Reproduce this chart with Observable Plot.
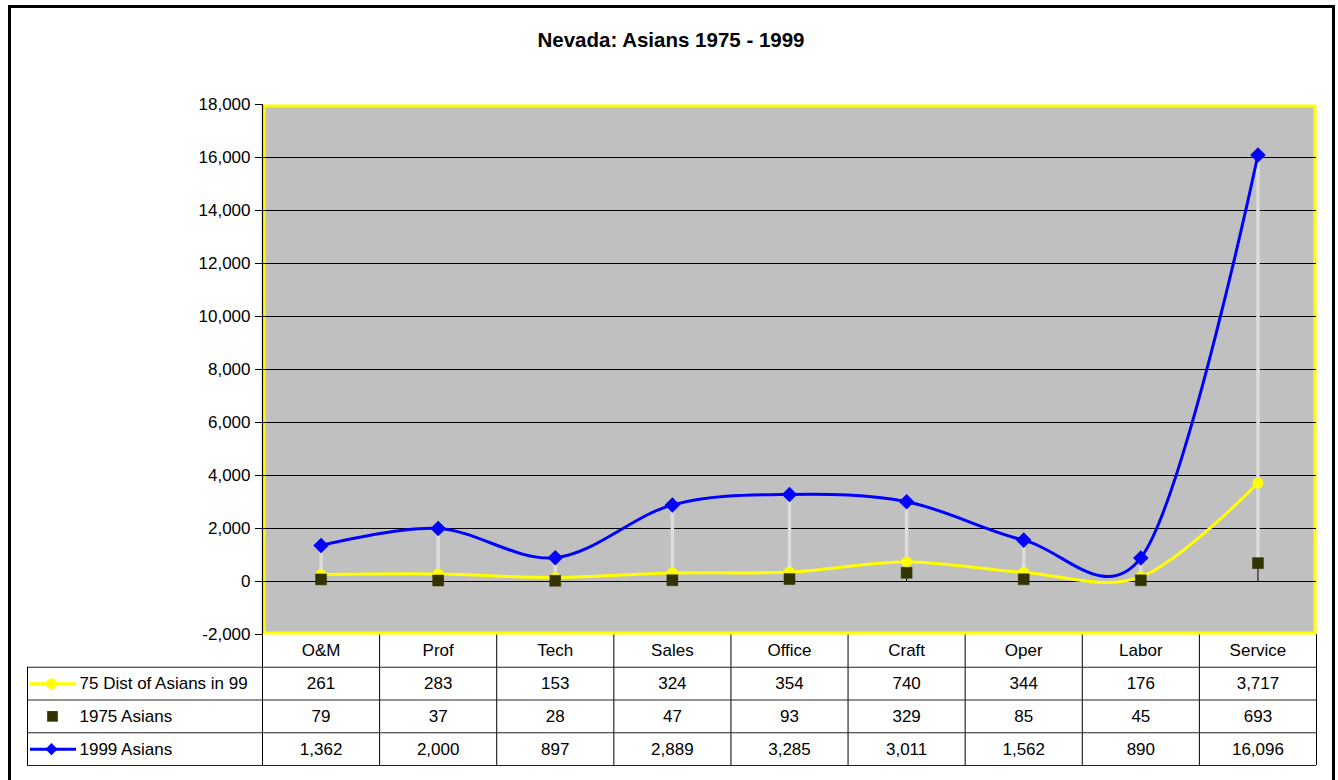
<!DOCTYPE html>
<html>
<head>
<meta charset="utf-8">
<script src="https://cdn.jsdelivr.net/npm/d3@7"></script>
<script src="https://cdn.jsdelivr.net/npm/@observablehq/plot@0.6"></script>
<style>
  html, body { margin: 0; padding: 0; background: #fff; overflow: hidden; width: 1338px; height: 780px; }
  #frame { position: absolute; left: 8px; top: 5px; width: 1327px; height: 800px; border: 3px solid #000; box-sizing: border-box; }
  #title { position: absolute; left: 2px; top: 28px; width: 1338px; text-align: center; font: bold 20.5px "Liberation Sans", Arial, sans-serif; color: #000; }
  .layer { position: absolute; left: 0; top: 0; }
</style>
</head>
<body>
<div id="frame"></div>
<div id="title">Nevada: Asians 1975 - 1999</div>
<div id="table" class="layer"></div>
<div id="chart" class="layer"></div>
<script>
// ---- data ----
const categories = ["O&M", "Prof", "Tech", "Sales", "Office", "Craft", "Oper", "Labor", "Service"];
const dist75 = [261, 283, 153, 324, 354, 740, 344, 176, 3717];
const asians1975 = [79, 37, 28, 47, 93, 329, 85, 45, 693];
const asians1999 = [1362, 2000, 897, 2889, 3285, 3011, 1562, 890, 16096];
const seriesNames = ["75 Dist of Asians in 99", "1975 Asians", "1999 Asians"];
const yTicks = [-2000, 0, 2000, 4000, 6000, 8000, 10000, 12000, 14000, 16000, 18000];

// ---- layout ----
const W = 1338, H = 780;
const mL = 262, mR = 22, plotTop = 104, plotBottom = 634, tableBottom = 765;
const colW = (W - mR - mL) / categories.length;
const px2x = p => (p - mL) / colW;
const font = "'Liberation Sans', Arial, sans-serif";
const fmt = d3.formatLocale({ decimal: ".", thousands: ",", grouping: [3], currency: ["$", ""], minus: "-" }).format(",");
const smooth = d3.curveCatmullRom.alpha(0.15);

const rows = categories.map((c, i) => ({
  cat: c, x: i + 0.5,
  dist: dist75[i], a75: asians1975[i], a99: asians1999[i],
  max: Math.max(dist75[i], asians1975[i], asians1999[i]),
  min: Math.min(dist75[i], asians1975[i], asians1999[i])
}));

// ---- chart ----
const chart = Plot.plot({
  width: W, height: H,
  marginLeft: mL, marginRight: mR, marginTop: plotTop, marginBottom: H - plotBottom,
  style: { fontFamily: font, fontSize: "17px", background: "transparent", color: "#000" },
  x: { domain: [0, categories.length], axis: null },
  y: { domain: [-2000, 18000], axis: null },
  marks: [
    Plot.frame({ fill: "#C0C0C0", stroke: "#FFFF00", strokeWidth: 3, inset: 1.5 }),
    Plot.ruleY(yTicks.filter(t => t > -2000 && t < 18000), { stroke: "#000", strokeWidth: 1 }),
    Plot.ruleX([0], { stroke: "#000", strokeWidth: 1.2 }),
    Plot.axisY({ ticks: yTicks, tickFormat: fmt, tickSize: 7, tickPadding: 5, fontSize: 17 }),
    // drop lines & high-low lines
    Plot.ruleX(rows, { x: "x", y1: 0, y2: "max", stroke: "#000", strokeWidth: 1 }),
    Plot.ruleX(rows, { x: "x", y1: "min", y2: "max", stroke: "#dcdcdc", strokeWidth: 3.5 }),
    // 75 dist
    Plot.line(rows, { x: "x", y: "dist", stroke: "#FFFF00", strokeWidth: 3, curve: smooth }),
    Plot.dot(rows, { x: "x", y: "dist", r: 5.5, fill: "#FFFF00", stroke: "none" }),
    // 1975
    Plot.dot(rows, { x: "x", y: "a75", symbol: "square", r: 6.2, fill: "#333300", stroke: "#333300", strokeWidth: 0.5 }),
    // 1999
    Plot.line(rows, { x: "x", y: "a99", stroke: "#0000FF", strokeWidth: 3, curve: smooth }),
    Plot.dot(rows, { x: "x", y: "a99", symbol: "diamond2", r: 7, fill: "#0000FF", stroke: "none" })
  ]
});
document.getElementById("chart").append(chart);

// ---- data table ----
const legendLeft = px2x(27);
const cells = [];
rows.forEach((r, i) => {
  cells.push({ x: r.x, y: 0.5, t: r.cat });
  cells.push({ x: r.x, y: 1.5, t: fmt(r.dist) });
  cells.push({ x: r.x, y: 2.5, t: fmt(r.a75) });
  cells.push({ x: r.x, y: 3.5, t: fmt(r.a99) });
});
const legendRows = seriesNames.map((n, i) => ({ name: n, y: i + 1.5 }));

const table = Plot.plot({
  width: W, height: H,
  marginLeft: mL, marginRight: mR, marginTop: plotBottom, marginBottom: H - tableBottom,
  style: { fontFamily: font, fontSize: "17px", background: "transparent", color: "#000" },
  x: { domain: [0, categories.length], axis: null },
  y: { domain: [0, 4], reverse: true, axis: null },
  marks: [
    Plot.ruleX(d3.range(0, categories.length + 1), { y1: 0, y2: 4, stroke: "#000" }),
    Plot.ruleX([legendLeft], { y1: 1, y2: 4, stroke: "#000" }),
    Plot.ruleY([1, 2, 3, 4], { x1: legendLeft, x2: categories.length, stroke: "#222" }),
    Plot.text(cells, { x: "x", y: "y", text: "t", fontSize: 17, fill: "#000" }),
    Plot.text(legendRows, { x: px2x(79), y: "y", text: "name", textAnchor: "start", fontSize: 17, fill: "#000" }),
    // legend keys
    Plot.ruleY([1.5], { x1: px2x(30), x2: px2x(76), stroke: "#FFFF00", strokeWidth: 3 }),
    Plot.dot([0], { x: px2x(51), y: 1.5, r: 5.5, fill: "#FFFF00", stroke: "none" }),
    Plot.dot([0], { x: px2x(52), y: 2.5, symbol: "square", r: 6, fill: "#333300", stroke: "none" }),
    Plot.ruleY([3.5], { x1: px2x(30), x2: px2x(76), stroke: "#0000FF", strokeWidth: 3 }),
    Plot.dot([0], { x: px2x(51), y: 3.5, symbol: "diamond2", r: 5.5, fill: "#0000FF", stroke: "none" })
  ]
});
document.getElementById("table").append(table);
</script>
</body>
</html>
